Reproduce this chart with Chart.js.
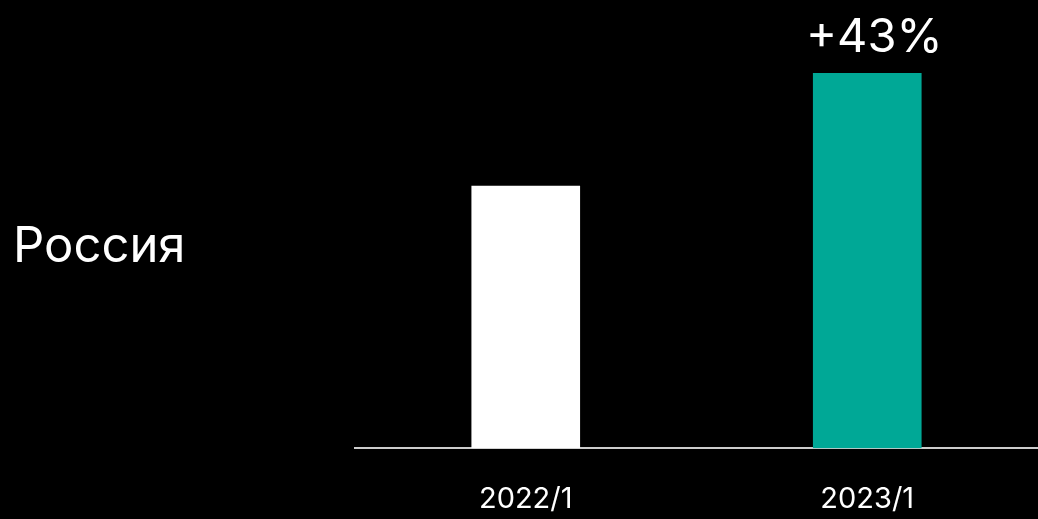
<!DOCTYPE html>
<html>
<head>
<meta charset="utf-8">
<script src="https://cdn.jsdelivr.net/npm/chart.js@4"></script>
<style>
  html, body { margin: 0; padding: 0; background: #000; }
  #wrap { width: 1038px; height: 519px; }
</style>
</head>
<body>
<div id="wrap"><canvas id="chart"></canvas></div>
<script>
var categories = ['2022/1', '2023/1'];
var values = [100, 143];
var barColors = ['#ffffff', '#00a896'];
var growthLabels = ['', '+43%'];
var rowLabel = 'Россия';

// labels drawn on top: row name on the left and growth over bars
var labelsPlugin = {
    id: 'labels',
    afterDraw: function (chart) {
        var ctx = chart.ctx;
        ctx.save();
        ctx.fillStyle = '#ffffff';
        ctx.font = '49px Inter';
        ctx.textAlign = 'left';
        ctx.textBaseline = 'middle';
        ctx.fillText(rowLabel, 13, 247);

        var meta = chart.getDatasetMeta(0);
        ctx.font = '47px Inter';
        ctx.textAlign = 'center';
        ctx.textBaseline = 'bottom';
        meta.data.forEach(function (bar, i) {
            if (growthLabels[i]) {
                ctx.fillText(growthLabels[i], bar.x + 7, bar.y - 12);
            }
        });
        ctx.restore();
    }
};

document.addEventListener('DOMContentLoaded', function () {
    var ctx = document.getElementById('chart').getContext('2d');
    new Chart(ctx, {
        type: 'bar',
        data: {
            labels: categories,
            datasets: [{
                data: values,
                backgroundColor: barColors,
                borderWidth: 0,
                barThickness: 108
            }]
        },
        options: {
            responsive: true,
            maintainAspectRatio: false,
            animation: false,
            layout: { padding: { left: 355, top: 55, right: 0, bottom: -24 } },
            plugins: {
                legend: { display: false },
                tooltip: { enabled: false }
            },
            scales: {
                x: {
                    grid: { display: false },
                    border: { display: true, color: '#cccccc', width: 2 },
                    ticks: {
                        color: '#ffffff',
                        font: { family: 'Inter', size: 29 },
                        padding: 26
                    }
                },
                y: {
                    display: false,
                    beginAtZero: true,
                    min: 0,
                    max: 150
                }
            }
        },
        plugins: [labelsPlugin]
    });
});
</script>
</body>
</html>
